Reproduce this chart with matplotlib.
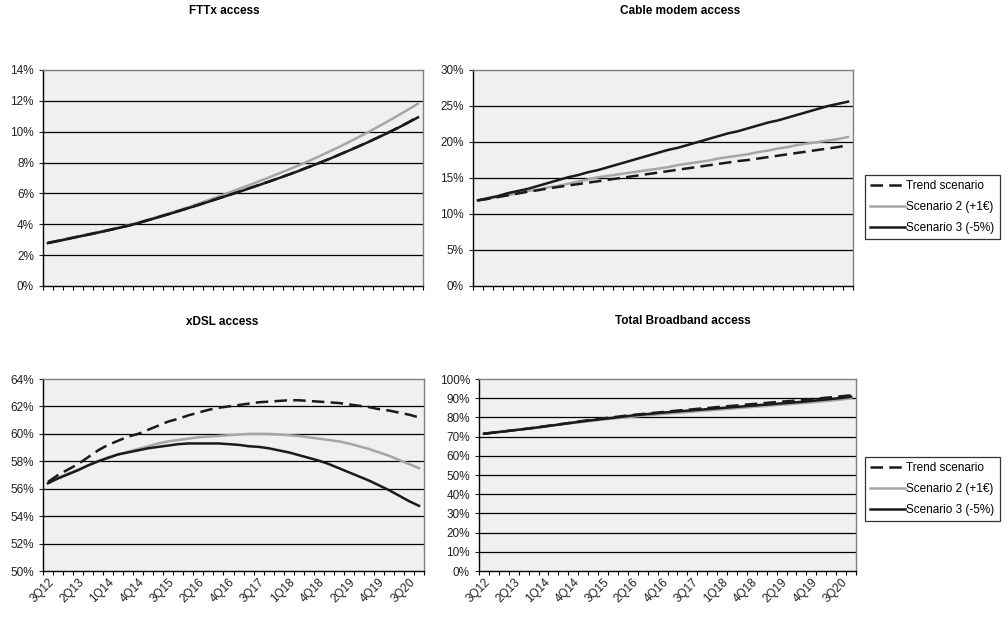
import matplotlib
matplotlib.use("Agg")
import matplotlib.pyplot as plt
from matplotlib.lines import Line2D
from matplotlib.ticker import FuncFormatter

plt.rcParams['font.family'] = ['Liberation Sans', 'DejaVu Sans']

# 38 quarterly points, every 3rd one labelled
tick_labels = ['3Q12', '2Q13', '1Q14', '4Q14', '3Q15', '2Q16', '4Q16',
               '3Q17', '1Q18', '4Q18', '2Q19', '4Q19', '3Q20']
n_points = 38

series_names = ['Trend scenario', 'Scenario 2 (+1€)', 'Scenario 3 (-5%)']

# FTTx access (%)
fttx_trend = [2.80, 2.93, 3.06, 3.20, 3.33, 3.47, 3.61, 3.76, 3.91, 4.08,
              4.27, 4.46, 4.65, 4.85, 5.05, 5.25, 5.46, 5.67, 5.88, 6.09,
              6.31, 6.53, 6.75, 6.98, 7.21, 7.45, 7.70, 7.95, 8.21, 8.48,
              8.76, 9.04, 9.33, 9.63, 9.94, 10.26, 10.60, 10.97]
fttx_s2 = [2.80, 2.94, 3.08, 3.22, 3.36, 3.50, 3.64, 3.79, 3.94, 4.11,
           4.30, 4.49, 4.69, 4.89, 5.10, 5.33, 5.56, 5.79, 6.03, 6.27,
           6.51, 6.76, 7.01, 7.27, 7.53, 7.80, 8.08, 8.37, 8.67, 8.98,
           9.30, 9.63, 9.97, 10.32, 10.68, 11.05, 11.43, 11.82]
fttx_s3 = [2.78, 2.91, 3.05, 3.19, 3.32, 3.46, 3.60, 3.75, 3.90, 4.07,
           4.26, 4.45, 4.64, 4.84, 5.04, 5.24, 5.45, 5.66, 5.87, 6.08,
           6.30, 6.52, 6.74, 6.97, 7.20, 7.44, 7.69, 7.94, 8.20, 8.47,
           8.75, 9.03, 9.32, 9.62, 9.93, 10.25, 10.58, 10.93]

# Cable modem access (%)
cable_trend = [11.9, 12.1, 12.35, 12.6, 12.85, 13.1, 13.3, 13.55, 13.75, 13.95,
               14.15, 14.35, 14.55, 14.75, 14.95, 15.15, 15.35, 15.55, 15.75, 15.95,
               16.15, 16.35, 16.55, 16.75, 16.95, 17.15, 17.35, 17.5, 17.7, 17.9,
               18.1, 18.3, 18.5, 18.7, 18.9, 19.1, 19.3, 19.55]
cable_s2 = [11.9, 12.1, 12.4, 12.6, 12.9, 13.2, 13.4, 13.7, 13.9, 14.2,
            14.5, 14.8, 15.1, 15.3, 15.5, 15.7, 15.9, 16.1, 16.3, 16.5,
            16.8, 17.0, 17.2, 17.4, 17.7, 17.9, 18.1, 18.3, 18.6, 18.8,
            19.1, 19.3, 19.6, 19.8, 20.0, 20.2, 20.4, 20.7]
cable_s3 = [11.9, 12.2, 12.5, 12.9, 13.2, 13.5, 13.9, 14.3, 14.7, 15.1,
            15.4, 15.8, 16.1, 16.5, 16.9, 17.3, 17.7, 18.1, 18.5, 18.9,
            19.2, 19.6, 20.0, 20.4, 20.8, 21.2, 21.5, 21.9, 22.3, 22.7,
            23.0, 23.4, 23.8, 24.2, 24.6, 25.0, 25.3, 25.6]

# xDSL access (%)
xdsl_trend = [56.5, 57.0, 57.4, 57.8, 58.3, 58.8, 59.2, 59.5, 59.8, 60.0,
              60.3, 60.6, 60.9, 61.1, 61.35, 61.55, 61.75, 61.9, 62.0, 62.1,
              62.2, 62.3, 62.35, 62.4, 62.45, 62.45, 62.4, 62.35, 62.3, 62.25,
              62.15, 62.05, 61.95, 61.8, 61.7, 61.55, 61.4, 61.2]
xdsl_s2 = [56.4, 56.8, 57.1, 57.4, 57.7, 58.0, 58.3, 58.5, 58.7, 58.9,
           59.1, 59.3, 59.45, 59.55, 59.65, 59.75, 59.8, 59.85, 59.9, 59.95,
           60.0, 60.0, 60.0, 59.95, 59.9, 59.85, 59.75, 59.65, 59.55, 59.45,
           59.3, 59.1, 58.9, 58.65, 58.4, 58.1, 57.8, 57.5]
xdsl_s3 = [56.4, 56.75, 57.05, 57.35, 57.7, 58.0, 58.25, 58.5, 58.65, 58.8,
           58.95, 59.05, 59.15, 59.25, 59.3, 59.3, 59.3, 59.3, 59.25, 59.2,
           59.1, 59.05, 58.95, 58.8, 58.65, 58.45, 58.25, 58.05, 57.8, 57.5,
           57.2, 56.9, 56.6, 56.25, 55.9, 55.5, 55.1, 54.75]

# Total broadband access (%)
total_trend = [71.5, 72.1, 72.7, 73.3, 73.9, 74.6, 75.3, 76.0, 76.7, 77.4,
               78.2, 78.9, 79.5, 80.1, 80.7, 81.3, 81.8, 82.3, 82.8, 83.3,
               83.8, 84.2, 84.7, 85.1, 85.6, 86.0, 86.5, 86.9, 87.3, 87.8,
               88.2, 88.6, 89.1, 89.5, 90.0, 90.5, 91.0, 91.5]
total_s2 = [71.5, 72.1, 72.7, 73.3, 73.9, 74.5, 75.1, 75.8, 76.5, 77.1,
            77.7, 78.3, 78.9, 79.4, 79.9, 80.4, 80.9, 81.3, 81.8, 82.2,
            82.6, 83.0, 83.4, 83.8, 84.2, 84.6, 85.0, 85.4, 85.8, 86.2,
            86.6, 87.0, 87.4, 87.8, 88.3, 88.8, 89.3, 89.9]
total_s3 = [71.5, 72.1, 72.7, 73.3, 73.9, 74.5, 75.2, 75.9, 76.6, 77.3,
            78.0, 78.6, 79.2, 79.8, 80.4, 81.0, 81.5, 82.0, 82.5, 82.9,
            83.3, 83.7, 84.1, 84.5, 84.9, 85.3, 85.7, 86.1, 86.5, 86.9,
            87.3, 87.7, 88.1, 88.6, 89.1, 89.6, 90.1, 90.8]

BLACK = '#1a1a1a'
GRAY = '#a6a6a6'
DASH = (0, (5, 2.5))
LW = 1.8
FS = 8.5

W, H = 1008, 640
fig = plt.figure(figsize=(W / 100, H / 100), dpi=100)


def px_axes(x0, x1, y0, y1):
    return fig.add_axes([x0 / W, 1 - y1 / H, (x1 - x0) / W, (y1 - y0) / H])


def style_axes(ax, ymin, ymax, ystep):
    ax.set_facecolor('#f0f0f0')
    ax.set_xlim(-0.5, n_points - 0.5)
    ax.set_ylim(ymin, ymax)
    yt = list(range(ymin, ymax + 1, ystep))
    ax.set_yticks(yt)
    ax.yaxis.set_major_formatter(FuncFormatter(lambda v, p: f'{v:.0f}%'))
    for v in yt[1:-1]:
        ax.axhline(v, color='#000000', lw=0.9, zorder=1)
    # ticks on category boundaries, labels every 3rd category
    ax.set_xticks([i - 0.5 for i in range(n_points + 1)])
    ax.set_xticklabels([])
    ax.set_xticks(list(range(0, n_points, 3)), tick_labels, minor=True)
    ax.tick_params(axis='x', which='major', length=3, width=0.8, direction='out')
    ax.tick_params(axis='x', which='minor', length=0, pad=4)
    ax.tick_params(axis='y', length=3, width=0.8, labelsize=FS, colors='#222222')
    ax.tick_params(axis='x', which='minor', labelsize=FS, labelcolor='#222222')
    for lab in ax.get_xticklabels(minor=True):
        lab.set_rotation(45)
        lab.set_ha('right')
        lab.set_rotation_mode('anchor')
    ax.spines['left'].set_color('#000000')
    ax.spines['bottom'].set_color('#000000')
    ax.spines['top'].set_color('#808080')
    ax.spines['right'].set_color('#808080')
    for s in ax.spines.values():
        s.set_linewidth(1.0)


def draw(ax, trend, s2, s3):
    x = list(range(n_points))
    ax.plot(x, s2, color=GRAY, lw=LW, zorder=3)
    ax.plot(x, s3, color=BLACK, lw=LW, zorder=4)
    ax.plot(x, trend, color=BLACK, lw=LW, linestyle=DASH, zorder=5)


ax1 = px_axes(43, 423, 70, 286)
style_axes(ax1, 0, 14, 2)
draw(ax1, fttx_trend, fttx_s2, fttx_s3)
ax1.set_xticklabels([], minor=True)

ax2 = px_axes(473, 853, 70, 286)
style_axes(ax2, 0, 30, 5)
draw(ax2, cable_trend, cable_s2, cable_s3)
ax2.set_xticklabels([], minor=True)

ax3 = px_axes(43, 424, 379, 571)
style_axes(ax3, 50, 64, 2)
draw(ax3, xdsl_trend, xdsl_s2, xdsl_s3)

ax4 = px_axes(479, 856, 379, 571)
style_axes(ax4, 0, 100, 10)
draw(ax4, total_trend, total_s2, total_s3)

title_kw = dict(ha='center', va='center', fontsize=8.5, fontweight='bold')
fig.text(224 / W, 1 - 11 / H, 'FTTx access', **title_kw)
fig.text(680 / W, 1 - 11 / H, 'Cable modem access', **title_kw)
fig.text(222 / W, 1 - 322 / H, 'xDSL access', **title_kw)
fig.text(683 / W, 1 - 321 / H, 'Total Broadband access', **title_kw)

handles = [Line2D([], [], color=BLACK, lw=LW, linestyle=DASH),
           Line2D([], [], color=GRAY, lw=LW),
           Line2D([], [], color=BLACK, lw=LW)]

for y_top in (175, 457):
    leg = fig.legend(handles, series_names, loc='upper left',
                     bbox_to_anchor=(865 / W, 1 - y_top / H),
                     fontsize=FS, frameon=True, fancybox=False,
                     edgecolor='#000000', handlelength=2.9, handletextpad=0.15,
                     borderpad=0.45, borderaxespad=0, labelspacing=0.75)
    leg.get_frame().set_linewidth(0.9)

fig.savefig('out.png', dpi=100)
